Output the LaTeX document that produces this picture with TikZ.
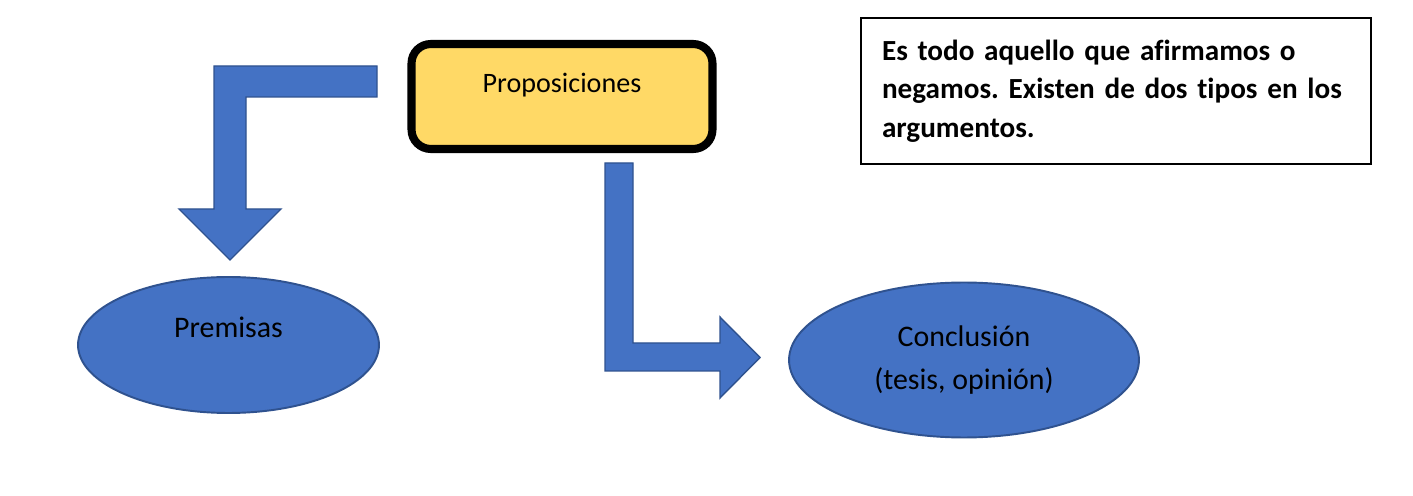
\documentclass[tikz,border=0pt]{standalone}
\usepackage{xcolor}
\usepackage{fontspec}
\setmainfont{Carlito}[Ligatures=NoCommon]
\usepackage{tikz}
\usetikzlibrary{shapes.geometric}
\definecolor{shapeblue}{HTML}{4472C4}
\definecolor{shapeedge}{HTML}{2F528F}
\definecolor{propyellow}{HTML}{FFD966}
\frenchspacing

\tikzset{
  blockarrow/.style={fill=shapeblue, draw=shapeedge, line width=0.8pt, line join=miter},
  bubble/.style={ellipse, fill=shapeblue, draw=shapeedge, line width=1.1pt,
                 inner sep=0pt, align=center, font=\fontsize{17}{24}\selectfont}
}

\begin{document}
\begin{tikzpicture}[x=0.02cm, y=-0.02cm]
\useasboundingbox (0,0) rectangle (1413,496);

\node[fill=propyellow, draw=black, line width=4.6pt, rounded corners=11pt,
      minimum width=6.02cm, minimum height=2.1cm, inner sep=0pt,
      text height=11pt, text depth=16pt,
      font=\fontsize{16}{19}\selectfont] (prop) at (562,96.5) {Proposiciones};

\node[draw=black, line width=0.8pt, minimum width=10.2cm, minimum height=2.92cm,
      text width=9.36cm, align=left, inner sep=0pt,
      font=\fontsize{16.6}{22}\selectfont\bfseries] (def) at (1116,91)
  {\mbox{Es todo aquello que afirmamos o}\\
   \mbox{negamos. Existen de dos tipos en los}\\
   \mbox{argumentos.}};

\node[bubble, minimum width=6.02cm, minimum height=2.72cm,
      text height=11pt, text depth=19pt] (prem) at (228.5,345) {Premisas};
\node[bubble, minimum width=7cm, minimum height=3.1cm] (concl) at (964,360)
  {Conclusión\\(tesis, opinión)};

\draw[blockarrow] (377,66) -- (214,66) -- (214,209) -- (179,209) -- (230,260)
  -- (281,209) -- (246,209) -- (246,97) -- (377,97) -- cycle;
\draw[blockarrow] (605,163) -- (633,163) -- (633,343) -- (720,343) -- (720,317)
  -- (760,357.5) -- (720,398) -- (720,371) -- (605,371) -- cycle;
\end{tikzpicture}
\end{document}
